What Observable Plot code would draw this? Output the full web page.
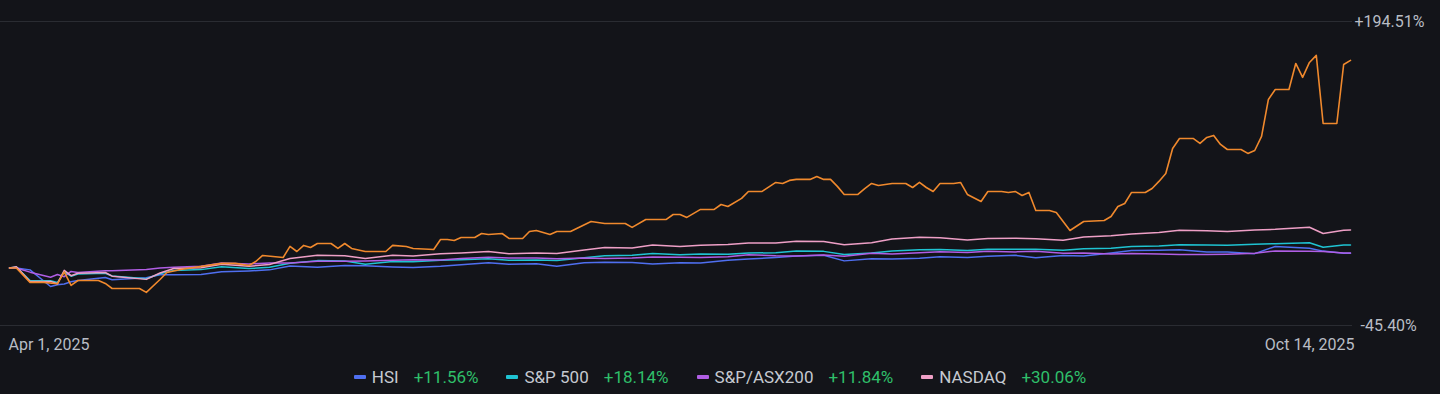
<!DOCTYPE html>
<html>
<head>
<meta charset="utf-8">
<script src="https://cdn.jsdelivr.net/npm/d3@7"></script>
<script src="https://cdn.jsdelivr.net/npm/@observablehq/plot@0.6"></script>
<style>
  html, body { margin: 0; padding: 0; background: #131419; }
  body { width: 1440px; height: 394px; overflow: hidden; font-family: Roboto, "Noto Sans", sans-serif; }
  #chart svg { display: block; }
  #legend { height: 34px; display: flex; justify-content: center; align-items: center; font-size: 17px; color: #c5c9d0; }
  .item { display: flex; align-items: center; margin: 0 14px; }
  .swatch { width: 12px; height: 4px; border-radius: 1px; margin-right: 6px; }
  .val { color: #2fbf6a; margin-left: 15px; }
</style>
</head>
<body>
<div id="chart"></div>
<div id="legend"></div>
<script>
// ---- Data (percent change since Apr 1, 2025) ----
const indexDates = ["2025-04-01","2025-04-02","2025-04-04","2025-04-07","2025-04-08","2025-04-09","2025-04-10","2025-04-11","2025-04-15","2025-04-16","2025-04-21","2025-04-23","2025-04-25","2025-04-29",
"2025-05-02","2025-05-06","2025-05-09","2025-05-12","2025-05-16","2025-05-20","2025-05-23","2025-05-27","2025-05-30",
"2025-06-03","2025-06-06","2025-06-10","2025-06-13","2025-06-17","2025-06-20","2025-06-24","2025-06-27",
"2025-07-01","2025-07-04","2025-07-08","2025-07-11","2025-07-15","2025-07-18","2025-07-22","2025-07-25","2025-07-29",
"2025-08-01","2025-08-05","2025-08-08","2025-08-12","2025-08-15","2025-08-19","2025-08-22","2025-08-26","2025-08-29",
"2025-09-02","2025-09-05","2025-09-09","2025-09-12","2025-09-16","2025-09-19","2025-09-23","2025-09-26","2025-09-30",
"2025-10-03","2025-10-08","2025-10-10","2025-10-13","2025-10-14"];

const hsiValues = [0,0,-1.5,-14.6,-13.3,-12.7,-10.9,-9.9,-7.5,-9.3,-7.8,-5.3,-5.3,-5.2,
-3.0,-2.3,-1.5,1.5,0.6,2.0,1.7,0.8,0.4,
1.3,2.5,4.1,3.0,3.3,1.4,4.2,4.6,
4.4,3.1,4.1,4.0,6.0,7.0,8.3,9.4,10.0,
5.6,7.3,7.1,7.6,8.9,8.3,9.2,10.0,8.1,
9.9,9.5,11.8,13.7,13.9,14.4,12.7,12.6,11.3,
17.0,15.6,13.3,11.6,11.56];

const spxValues = [0,0.7,-9.9,-10.1,-11.5,-3.1,-6.5,-4.8,-4.2,-6.3,-8.5,-4.6,-1.9,-1.3,
1.0,-0.5,0.5,3.7,5.8,5.5,3.0,5.1,4.9,
6.0,6.5,7.2,6.1,6.2,5.9,8.1,9.6,
10.0,11.5,10.5,11.1,10.8,11.8,12.0,13.4,13.1,
10.7,11.8,13.4,14.4,14.5,13.8,14.8,14.8,14.7,
13.9,15.1,15.6,16.9,17.3,18.3,18.2,17.9,18.7,
19.2,19.9,16.3,18.1,18.14];

const asxValues = [0,0,-3.3,-7.3,-5.2,-6.9,-2.7,-3.5,-2.1,-2.1,-1.3,-0.1,0.6,1.3,
3.9,3.2,3.9,4.0,5.3,5.3,5.5,6.1,6.4,
6.3,7.4,8.4,7.9,7.8,7.3,7.9,7.4,
7.8,8.6,8.4,8.3,8.9,10.5,9.6,9.4,10.2,
9.3,11.6,11.1,12.1,12.8,12.3,13.1,12.7,13.2,
11.7,11.9,11.1,11.4,11.1,10.7,10.6,10.9,11.7,
13.4,13.2,13.0,11.9,11.84];

const nasdaqValues = [0,0.9,-10.7,-10.6,-12.5,-1.9,-6.1,-4.2,-3.6,-6.5,-9.0,-4.0,-0.4,0.1,
3.0,1.4,2.7,7.5,10.1,9.7,7.4,10.0,9.5,
11.2,11.9,13.0,11.2,11.9,11.4,14.1,16.2,
15.8,18.1,17.0,18.0,18.5,19.7,19.7,21.0,20.9,
18.3,19.9,22.9,24.2,23.9,22.1,23.2,23.5,23.0,
21.9,24.4,25.4,26.9,28.0,29.7,29.4,28.8,29.9,
30.5,32.1,27.2,29.8,30.06];

const mainDates = ["2025-04-01","2025-04-02","2025-04-04","2025-04-06","2025-04-08","2025-04-09","2025-04-10","2025-04-11","2025-04-14","2025-04-15","2025-04-16","2025-04-20","2025-04-21","2025-04-23","2025-04-24","2025-04-26",
"2025-05-02","2025-05-04","2025-05-06","2025-05-07","2025-05-08","2025-05-11","2025-05-12","2025-05-13","2025-05-14","2025-05-15","2025-05-16","2025-05-18","2025-05-19","2025-05-20","2025-05-21","2025-05-23","2025-05-26","2025-05-27","2025-05-29","2025-05-30",
"2025-06-02","2025-06-03","2025-06-04","2025-06-05","2025-06-06","2025-06-08","2025-06-09","2025-06-10","2025-06-12","2025-06-13","2025-06-15","2025-06-16","2025-06-17","2025-06-19","2025-06-20","2025-06-22","2025-06-25","2025-06-27","2025-06-30",
"2025-07-01","2025-07-03","2025-07-06","2025-07-07","2025-07-08","2025-07-09","2025-07-11","2025-07-13","2025-07-14","2025-07-15","2025-07-17","2025-07-18","2025-07-20","2025-07-22","2025-07-23","2025-07-24","2025-07-25","2025-07-27","2025-07-28","2025-07-29","2025-07-30","2025-07-31",
"2025-08-01","2025-08-03","2025-08-04","2025-08-05","2025-08-06","2025-08-08","2025-08-10","2025-08-11","2025-08-12","2025-08-13","2025-08-14","2025-08-15","2025-08-17","2025-08-18","2025-08-19","2025-08-21","2025-08-22","2025-08-24","2025-08-25","2025-08-26","2025-08-27","2025-08-28","2025-08-29","2025-08-31",
"2025-09-01","2025-09-03","2025-09-05","2025-09-08","2025-09-09","2025-09-10","2025-09-11","2025-09-12","2025-09-14","2025-09-15","2025-09-16","2025-09-17","2025-09-18","2025-09-19","2025-09-21","2025-09-22","2025-09-23","2025-09-24","2025-09-25","2025-09-26","2025-09-28","2025-09-29","2025-09-30",
"2025-10-01","2025-10-02","2025-10-03","2025-10-05","2025-10-06","2025-10-07","2025-10-08","2025-10-09","2025-10-10","2025-10-12","2025-10-13","2025-10-14"];

const mainValues = [0,0,-11.4,-11.4,-12.5,-3,-13.8,-9.9,-9.9,-12.2,-16.2,-16.2,-19.3,-9.1,-3.6,-1.2,
3.6,3.6,2.0,5.1,9.9,8.3,17.0,13.0,17.8,16.2,19.3,19.3,15.4,19.3,15.4,13.0,13.0,17.8,17.0,15.4,
14.6,22.5,22.5,21.7,24.1,24.1,27.2,26.4,27.2,23.3,23.3,28.8,29.6,26.4,28.8,28.8,36.7,35.1,35.1,
32.0,38.3,38.3,42.2,42.2,39.9,46.2,46.2,50.1,48.5,54.9,60.4,60.4,67.5,66.7,69.1,69.9,69.9,72.2,69.9,69.9,64.4,
58.0,58.0,62.7,66.7,65.1,66.7,66.7,63.5,67.5,63.5,60.4,66.7,66.7,67.5,58.0,52.5,60.4,60.4,59.6,60.4,57.2,59.6,45.4,45.4,
43.8,29.6,36.7,37.5,40.6,48.5,50.9,59.6,59.6,62.7,68.3,74.6,94.3,102.2,102.2,98.3,103.0,104.6,97.5,93.5,93.5,90.4,92.7,
103.8,133.0,140.9,140.9,161.4,150.4,162.2,167.8,114.0,114.0,160.6,163.8];

const seriesNames = ["HSI", "S&P 500", "S&P/ASX200", "NASDAQ"];
const seriesColors = ["#4f6ff0", "#1fc3d2", "#b05ee4", "#ee9fc6"];
const legendValues = ["+11.56%", "+18.14%", "+11.84%", "+30.06%"];
const mainColor = "#f0892d";

const yTicks = [194.51, -45.40];
const xTickDates = ["2025-04-01", "2025-10-14"];
const xTickLabels = ["Apr 1, 2025", "Oct 14, 2025"];

// ---- Build tables ----
const parse = d3.utcParse("%Y-%m-%d");
const indexSeries = [hsiValues, spxValues, asxValues, nasdaqValues];
const rows = [];
indexSeries.forEach((vals, i) => {
  vals.forEach((v, j) => rows.push({date: parse(indexDates[j]), value: v, name: seriesNames[i]}));
});
const mainRows = mainDates.map((d, j) => ({date: parse(mainDates[j]), value: mainValues[j]}));
const xTicks = xTickDates.map((d, i) => ({date: parse(d), label: xTickLabels[i], y: yTicks[1]}));
const endDate = parse(xTickDates[1]);

const fmt = d => (d > 0 ? "+" : "") + d.toFixed(2) + "%";
const textFill = "#b9bdc5";

const chart = Plot.plot({
  width: 1440,
  height: 360,
  marginLeft: 0,
  marginRight: 88,
  marginTop: 21,
  marginBottom: 35,
  style: {background: "transparent", fontFamily: "Roboto, sans-serif", fontSize: "16px", color: textFill},
  x: {type: "utc", domain: [parse(xTickDates[0]), endDate], range: [9, 1350], axis: null},
  y: {domain: [yTicks[1], yTicks[0]], axis: null},
  color: {domain: seriesNames, range: seriesColors},
  marks: [
    Plot.ruleY(yTicks, {stroke: "#2a2c32", strokeWidth: 1.2}),
    Plot.text(yTicks.slice(0, 1), {x: endDate, y: d => d, text: fmt, dx: 4, textAnchor: "start", fill: textFill, fontSize: 16}),
    Plot.text(yTicks.slice(1), {x: endDate, y: d => d, text: fmt, dx: 10, textAnchor: "start", fill: textFill, fontSize: 16}),
    Plot.line(rows, {x: "date", y: "value", z: "name", stroke: "name", strokeWidth: 1.5}),
    Plot.line(mainRows, {x: "date", y: "value", stroke: mainColor, strokeWidth: 1.6}),
    Plot.text(xTicks.slice(0, 1), {x: "date", y: "y", text: "label", dy: 19, dx: -1, textAnchor: "start", fill: textFill, fontSize: 16}),
    Plot.text(xTicks.slice(1), {x: "date", y: "y", text: "label", dy: 19, dx: 4, textAnchor: "end", fill: textFill, fontSize: 16})
  ]
});
document.getElementById("chart").appendChild(chart);

const legend = document.getElementById("legend");
seriesNames.forEach((n, i) => {
  const item = document.createElement("div");
  item.className = "item";
  item.innerHTML = `<span class="swatch" style="background:${seriesColors[i]}"></span><span>${n}</span><span class="val">${legendValues[i]}</span>`;
  legend.appendChild(item);
});
</script>
</body>
</html>
